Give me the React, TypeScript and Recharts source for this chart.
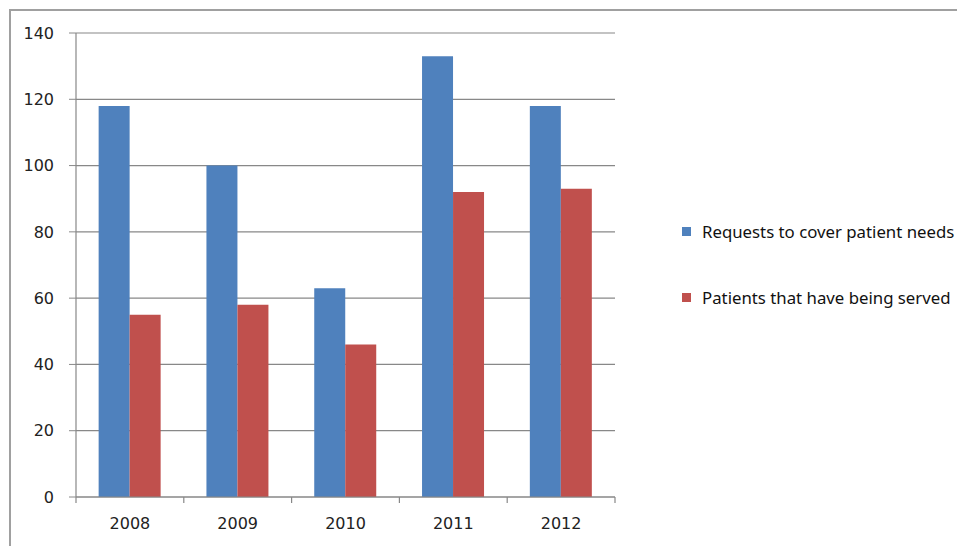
import { BarChart, Bar, XAxis, YAxis, CartesianGrid } from 'recharts';

const years = ['2008', '2009', '2010', '2011', '2012'];
const requests = [118, 100, 63, 133, 118];
const served = [55, 58, 46, 92, 93];
const yTicks = [0, 20, 40, 60, 80, 100, 120, 140];
const boundaryTicks = [0, 1, 2, 3, 4, 5];

const seriesInfo = [
  { key: 'requests', name: 'Requests to cover patient needs', color: '#4f81bd' },
  { key: 'served', name: 'Patients that have being served', color: '#c0504d' }
];

const data = years.map((year, i) => ({
  year,
  slot: i,
  requests: requests[i],
  served: served[i]
}));

const axisColor = '#888888';
const labelStyle = { fontFamily: '"DejaVu Sans", sans-serif', fontSize: 16, fill: '#222' };

export default function App() {
  return (
    <div style={{ position: 'absolute', left: 0, top: 0, width: 957, height: 546, overflow: 'hidden', background: '#fff' }}>
      <div style={{ position: 'absolute', left: 9, top: 9, width: 960, height: 560, borderTop: '2px solid #a0a0a0', borderLeft: '2px solid #a0a0a0' }} />
      <div style={{ position: 'absolute', left: 0, top: 0 }}>
        <BarChart
          width={957}
          height={546}
          data={data}
          margin={{ top: 33, right: 342, bottom: 0, left: 0 }}
          barCategoryGap="21%"
          barGap={0}
        >
          <CartesianGrid vertical={false} stroke={axisColor} strokeWidth={1.2} />
          {/* Excel-style tick marks between categories */}
          <XAxis
            xAxisId="a_edges"
            type="number"
            dataKey="slot"
            domain={[0, years.length]}
            allowDataOverflow
            ticks={boundaryTicks}
            height={1}
            tickFormatter={() => ''}
            tickSize={6}
            stroke={axisColor}
            axisLine={{ stroke: axisColor, strokeWidth: 1.2 }}
            tickLine={{ stroke: axisColor, strokeWidth: 1.2 }}
          />
          <XAxis
            xAxisId="b_cat"
            dataKey="year"
            height={48}
            axisLine={false}
            tickLine={false}
            tickSize={0}
            tickMargin={20}
            tick={labelStyle}
          />
          <YAxis
            domain={[0, 140]}
            ticks={yTicks}
            width={76}
            tickSize={7}
            tickMargin={15}
            stroke={axisColor}
            axisLine={{ stroke: axisColor, strokeWidth: 1.2 }}
            tick={labelStyle}
          />
          {seriesInfo.map(s => (
            <Bar key={s.key} xAxisId="b_cat" dataKey={s.key} name={s.name} fill={s.color} isAnimationActive={false} />
          ))}
        </BarChart>
      </div>
      <div style={{ position: 'absolute', left: 682, top: 221, fontFamily: '"Noto Sans", sans-serif', fontSize: 16.8, color: '#111', whiteSpace: 'nowrap' }}>
        {seriesInfo.map((s, i) => (
          <div key={s.key} style={{ display: 'flex', alignItems: 'center', height: 20, marginBottom: i === 0 ? 46 : 0 }}>
            <span style={{ display: 'inline-block', width: 9, height: 9, background: s.color, marginRight: 11 }} />
            <span>{s.name}</span>
          </div>
        ))}
      </div>
    </div>
  );
}
